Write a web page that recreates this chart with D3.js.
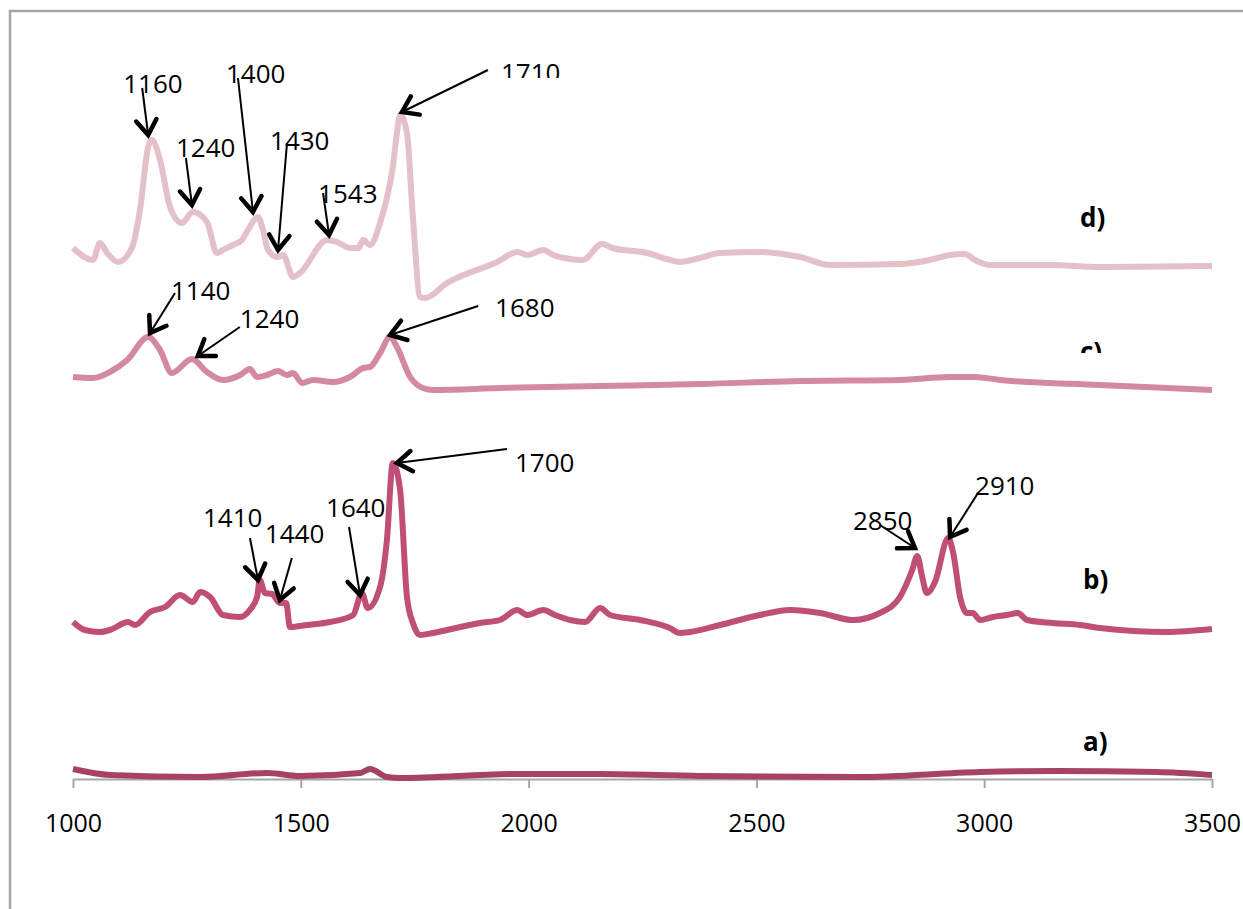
<!DOCTYPE html>
<html>
<head>
<meta charset="utf-8">
<script src="https://cdn.jsdelivr.net/npm/d3@7"></script>
<style>
  html, body { margin: 0; padding: 0; background: #fff; }
  svg { display: block; }
</style>
</head>
<body>
<svg id="chart" width="1243" height="909"></svg>
<script>
// ---------- DATA ----------
const xTicks = [1000, 1500, 2000, 2500, 3000, 3500];

const seriesNames = ["a)", "b)", "c)", "d)"];

// spectrum a) : [wavenumber, intensity]
const spectrumA = [
  [1000,0.09],[1081,0.03],[1279,0.01],[1426,0.05],[1498,0.02],[1630,0.05],[1652,0.09],
  [1689,0.01],[1718,0.00],[1975,0.04],[2157,0.04],[2376,0.02],[2723,0.01],[2991,0.06],
  [3160,0.07],[3380,0.06],[3500,0.03]
];

// spectrum b)
const spectrumB = [
  [1000,1.56],[1026,1.48],[1059,1.46],[1081,1.48],[1121,1.56],[1136,1.53],[1169,1.66],
  [1202,1.71],[1235,1.83],[1263,1.76],[1279,1.86],[1301,1.81],[1329,1.63],[1367,1.61],
  [1388,1.68],[1404,1.81],[1410,1.98],[1421,1.85],[1437,1.84],[1454,1.75],[1468,1.75],
  [1476,1.51],[1514,1.53],[1564,1.56],[1615,1.63],[1634,1.85],[1647,1.70],[1674,1.91],
  [1689,2.38],[1702,3.15],[1718,2.88],[1733,1.81],[1746,1.55],[1762,1.43],[1790,1.45],
  [1821,1.48],[1893,1.55],[1937,1.58],[1975,1.68],[1997,1.63],[2032,1.68],[2058,1.63],
  [2091,1.58],[2124,1.56],[2157,1.70],[2179,1.63],[2245,1.58],[2310,1.50],[2332,1.45],
  [2354,1.46],[2420,1.53],[2508,1.63],[2574,1.68],[2640,1.65],[2712,1.58],[2771,1.65],
  [2815,1.81],[2842,2.08],[2853,2.22],[2864,2.01],[2874,1.85],[2892,1.96],[2921,2.40],
  [2932,2.25],[2947,1.81],[2962,1.65],[2975,1.65],[2991,1.58],[3019,1.61],[3050,1.63],
  [3074,1.65],[3094,1.58],[3151,1.55],[3210,1.53],[3254,1.50],[3401,1.46],[3500,1.49]
];

// spectrum c)
const spectrumC = [
  [1000,4.01],[1044,4.00],[1081,4.06],[1119,4.18],[1165,4.41],[1191,4.28],[1217,4.05],
  [1261,4.19],[1294,4.06],[1329,3.98],[1367,4.03],[1388,4.09],[1404,4.01],[1426,4.03],
  [1450,4.07],[1470,4.03],[1483,4.05],[1503,3.95],[1527,3.98],[1571,3.96],[1608,4.01],
  [1637,4.10],[1652,4.11],[1674,4.25],[1696,4.41],[1711,4.31],[1740,4.01],[1768,3.90],
  [1790,3.88],[1937,3.90],[2157,3.92],[2376,3.94],[2596,3.97],[2815,3.98],[2925,4.01],
  [2980,4.01],[3035,3.98],[3254,3.93],[3500,3.88]
];

// spectrum d)
const spectrumD = [
  [1000,5.30],[1044,5.18],[1059,5.35],[1075,5.25],[1099,5.16],[1130,5.31],[1147,5.68],
  [1165,6.31],[1173,6.38],[1191,6.18],[1213,5.71],[1239,5.55],[1263,5.66],[1294,5.56],
  [1316,5.25],[1329,5.28],[1351,5.33],[1371,5.38],[1384,5.48],[1406,5.61],[1417,5.48],
  [1428,5.28],[1448,5.21],[1461,5.23],[1483,5.01],[1498,5.05],[1558,5.38],[1579,5.36],
  [1608,5.30],[1626,5.30],[1637,5.38],[1652,5.33],[1674,5.55],[1696,5.95],[1702,6.11],
  [1711,6.45],[1718,6.63],[1733,6.45],[1746,5.61],[1762,4.81],[1773,4.80],[1821,4.95],
  [1931,5.16],[1975,5.26],[1997,5.23],[2032,5.28],[2054,5.23],[2091,5.19],[2119,5.18],
  [2161,5.34],[2185,5.30],[2260,5.25],[2310,5.18],[2332,5.16],[2376,5.20],[2420,5.25],
  [2508,5.26],[2596,5.21],[2662,5.13],[2815,5.14],[2881,5.18],[2925,5.23],[2958,5.24],
  [2980,5.18],[3013,5.13],[3144,5.13],[3254,5.11],[3500,5.12]
];

// peak annotations: label, wavenumber and intensity the arrow points at
const peakLabels = ["1160","1240","1400","1430","1543","1710","1140","1240","1680",
                    "1410","1440","1640","1700","2850","2910"];
const peakX = [1165,1261,1395,1450,1562,1722,1169,1274,1696,1406,1454,1630,1711,2848,2925];
const peakY = [6.43,5.73,5.66,5.28,5.43,6.66,4.45,4.22,4.43,1.98,1.78,1.83,3.15,2.30,2.41];

// ---------- LAYOUT / STYLE ----------
const layout = {
  x0: 73, x1: 1212, yBase: 778, yTop: 78,
  yDomain: [0, 7],
  colors: ["#A64264", "#C04F77", "#D38A9F", "#E4C0C8"],
  lineWidth: 6,
  // arrow tail offset (dx,dy) from tip, text offset (dx,dy) from tip
  tail: [[-6,-47],[-6,-47],[-15,-134],[9,-107],[-6,-42],[86,-42],[25,-40],[42,-29],[88,-29],
         [-8,-42],[12,-42],[-11,-68],[110,-14],[-35,-23],[28,-44]],
  text: [[-25,-42],[-16,-48],[-27,-129],[-8,-100],[-11,-32],[99,-30],[21,-33],[42,-28],[105,-18],
         [-55,-53],[-15,-57],[-34,-78],[118,9],[-62,-18],[25,-42]],
  clipTextAbove: {5: 4},       // annotation index -> px cut above baseline
  seriesLabelPos: [[1083,751],[1083,589],[1080,361],[1080,227]],
  seriesLabelClip: {2: 353}
};

const svg = d3.select("#chart");

const x = d3.scaleLinear().domain([xTicks[0], xTicks[xTicks.length-1]]).range([layout.x0, layout.x1]);
const y = d3.scaleLinear().domain(layout.yDomain).range([layout.yBase, layout.yTop]);

// frame
svg.append("path")
  .attr("d", `M10,909 L10,11 L1243,11`)
  .attr("fill", "none").attr("stroke", "#A6A6A6").attr("stroke-width", 2.5);

// axis
const axis = d3.axisBottom(x).tickValues(xTicks).tickSize(9).tickSizeOuter(0).tickFormat(d3.format("d"));
const gAxis = svg.append("g").attr("transform", `translate(0,${layout.yBase + 1})`).call(axis);
gAxis.select(".domain").attr("stroke", "#A6A6A6").attr("stroke-width", 2);
gAxis.selectAll(".tick line").attr("stroke", "#A6A6A6").attr("stroke-width", 2);
gAxis.selectAll(".tick text")
  .attr("y", 53).attr("dy", 0)
  .attr("fill", "#000")
  .style("font-family", "'Open Sans', sans-serif")
  .style("font-size", "25px");

// lines
const line = d3.line().x(d => x(d[0])).y(d => y(d[1])).curve(d3.curveMonotoneX);
const spectra = [spectrumA, spectrumB, spectrumC, spectrumD];
[3,2,1,0].forEach(i => {
  svg.append("path")
    .datum(spectra[i])
    .attr("d", line)
    .attr("fill", "none")
    .attr("stroke", layout.colors[i])
    .attr("stroke-width", layout.lineWidth)
    .attr("stroke-linejoin", "round")
    .attr("stroke-linecap", "butt");
});

// series labels
const defs = svg.append("defs");
seriesNames.forEach((name, i) => {
  const [lx, ly] = layout.seriesLabelPos[i];
  const t = svg.append("text")
    .attr("x", lx).attr("y", ly)
    .style("font-family", "'Open Sans', sans-serif")
    .style("font-weight", "bold")
    .style("font-size", "26px")
    .attr("fill", "#000")
    .text(name);
  if (layout.seriesLabelClip[i] !== undefined) {
    const id = "sclip" + i;
    defs.append("clipPath").attr("id", id).append("rect")
      .attr("x", lx - 10).attr("y", ly - 40).attr("width", 60).attr("height", layout.seriesLabelClip[i] - (ly - 40));
    t.attr("clip-path", `url(#${id})`);
  }
});

// annotations
const gAnn = svg.append("g");
peakLabels.forEach((lab, i) => {
  const tx = x(peakX[i]), ty = y(peakY[i]);
  const [dx, dy] = layout.tail[i];
  const sx = tx + dx, sy = ty + dy;
  gAnn.append("line")
    .attr("x1", sx).attr("y1", sy).attr("x2", tx).attr("y2", ty)
    .attr("stroke", "#000").attr("stroke-width", 2);
  // arrow head (open V)
  const ang = Math.atan2(sy - ty, sx - tx);
  const len = 18, spread = 0.6;
  const p1 = [tx + len * Math.cos(ang + spread), ty + len * Math.sin(ang + spread)];
  const p2 = [tx + len * Math.cos(ang - spread), ty + len * Math.sin(ang - spread)];
  gAnn.append("path")
    .attr("d", `M${p1[0]},${p1[1]} L${tx},${ty} L${p2[0]},${p2[1]}`)
    .attr("fill", "none").attr("stroke", "#000").attr("stroke-width", 4.5)
    .attr("stroke-linecap", "round").attr("stroke-linejoin", "miter");
  const [ox, oy] = layout.text[i];
  const t = gAnn.append("text")
    .attr("x", tx + ox).attr("y", ty + oy)
    .style("font-family", "'Open Sans', sans-serif")
    .style("font-size", "26px")
    .attr("fill", "#000")
    .text(lab);
  if (layout.clipTextAbove[i] !== undefined) {
    const id = "aclip" + i;
    const base = ty + oy;
    defs.append("clipPath").attr("id", id).append("rect")
      .attr("x", tx + ox - 10).attr("y", base - 40).attr("width", 100).attr("height", 40 - layout.clipTextAbove[i]);
    t.attr("clip-path", `url(#${id})`);
  }
});
</script>
</body>
</html>
